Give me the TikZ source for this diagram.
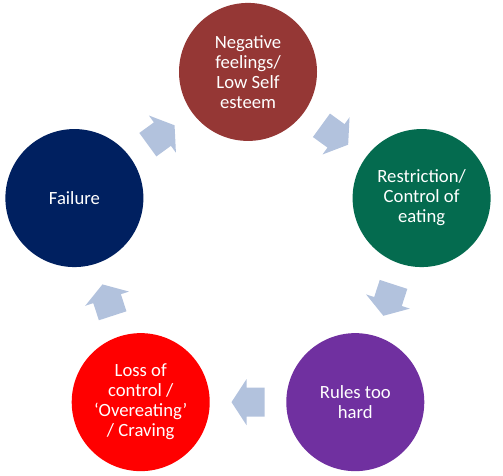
\documentclass[tikz,border=0pt]{standalone}
\usepackage{fontspec}
\setmainfont{Carlito}
\usetikzlibrary{calc}
\definecolor{negcol}{HTML}{953735}
\definecolor{restcol}{HTML}{046B4F}
\definecolor{rulecol}{HTML}{7030A0}
\definecolor{losscol}{HTML}{FF0000}
\definecolor{failcol}{HTML}{002060}
\definecolor{arrcol}{HTML}{B2C2DD}
\tikzset{
  stage/.style={circle, minimum size=103.5pt, inner sep=0pt, text=white,
    align=center, font=\fontsize{14}{15}\selectfont},
  cyc/.style={fill=arrcol, draw=none, to path={
    let \p1=($(\tikztostart)!0.5!(\tikztotarget)$),
        \p2=($(\p1)!-12.375pt!(\tikztotarget)$),
        \p3=($(\p1)!1.125pt!(\tikztotarget)$),
        \p4=($(\p1)!12.375pt!(\tikztotarget)$) in
    ($(\p2)!10.875pt!90:(\tikztotarget)$) -- ($(\p3)!10.875pt!90:(\tikztotarget)$)
    -- ($(\p3)!17.25pt!90:(\tikztotarget)$) -- (\p4)
    -- ($(\p3)!17.25pt!-90:(\tikztotarget)$) -- ($(\p3)!10.875pt!-90:(\tikztotarget)$)
    -- ($(\p2)!10.875pt!-90:(\tikztotarget)$) -- cycle}}
}
\begin{document}
\begin{tikzpicture}
	\useasboundingbox (0,0) rectangle (377.25pt,356.25pt);
	\coordinate (c) at (186pt,165.4pt);
	
	% Stages
	\node[stage, fill=negcol] (neg) at ([shift={(90:136.9pt)}]c) {Negative\\feelings/\\Low Self\\esteem};
	\node[stage, fill=restcol] (rest) at ([shift={(18:136.9pt)}]c) {Restriction/\\Control of\\eating};
	\node[stage, fill=rulecol] (rule) at ([shift={(-54:136.9pt)}]c) {Rules too\\hard};
	\node[stage, fill=losscol] (loss) at ([shift={(-126:136.9pt)}]c) {Loss of\\control /\\‘Overeating’\\/ Craving};
	\node[stage, fill=failcol] (fail) at ([shift={(162:136.9pt)}]c) {Failure};
	
	% Cycle arrows
	\path[cyc] (neg) to (rest);
	\path[cyc] (rest) to (rule);
	\path[cyc] (rule) to (loss);
	\path[cyc] (loss) to (fail);
	\path[cyc] (fail) to (neg);
\end{tikzpicture}
\end{document}
